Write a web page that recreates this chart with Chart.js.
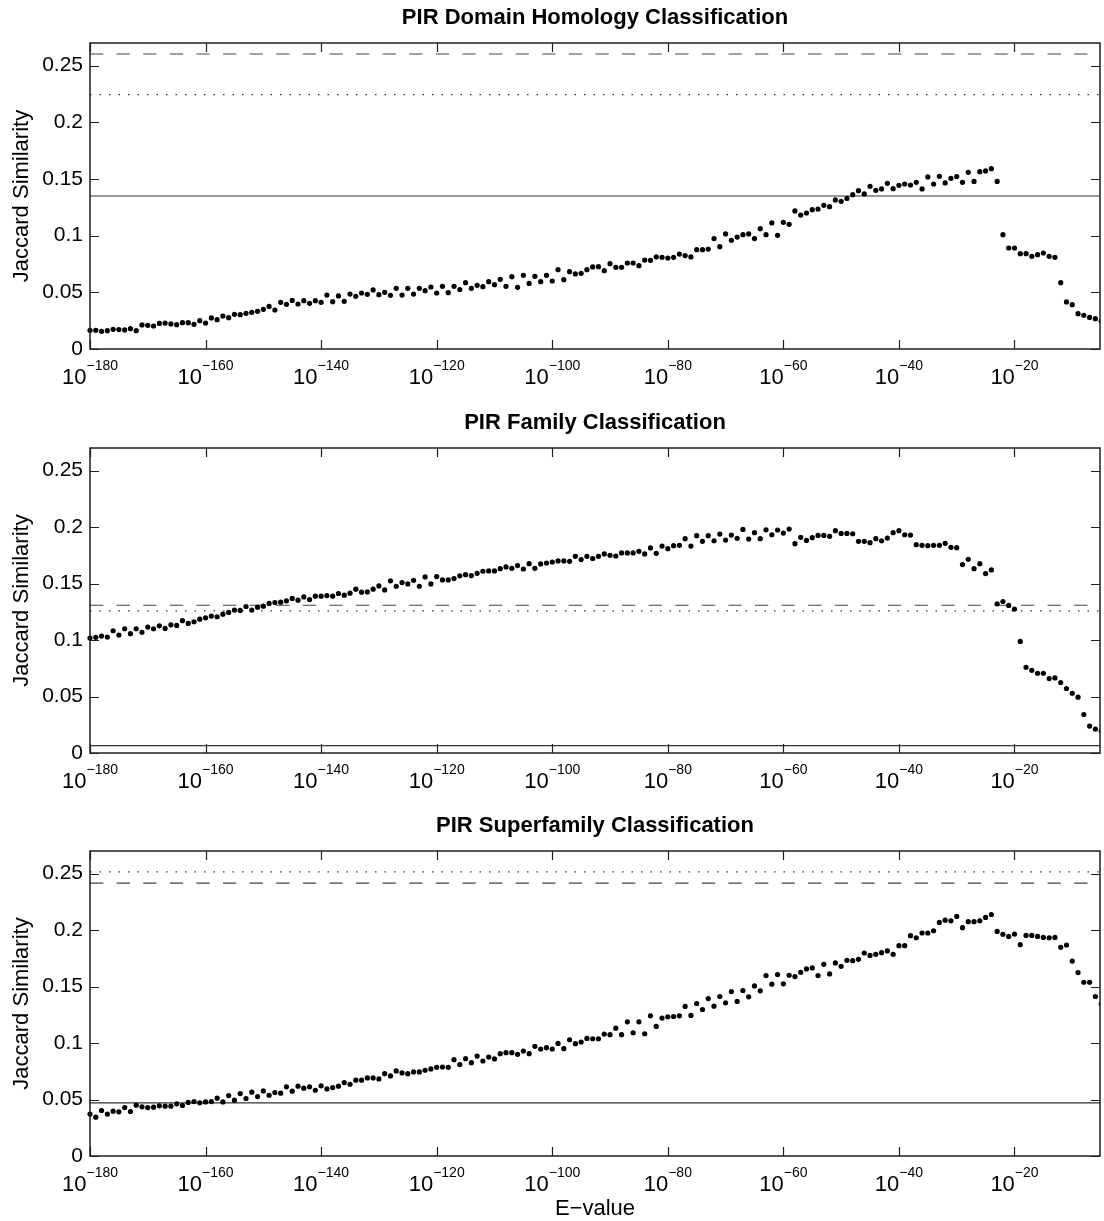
<!DOCTYPE html>
<html>
<head>
<meta charset="utf-8">
<script src="https://cdn.jsdelivr.net/npm/chart.js@4.4.1/dist/chart.umd.min.js"></script>
<style>
html,body{margin:0;padding:0;background:#fff;}
body{width:1104px;height:1221px;position:relative;overflow:hidden;}
canvas{position:absolute;left:0;}
</style>
</head>
<body>
<canvas id="c1" width="1104" height="399" style="top:0px;width:1104px;height:399px"></canvas>
<canvas id="c2" width="1104" height="398" style="top:405px;width:1104px;height:398px"></canvas>
<canvas id="c3" width="1104" height="413" style="top:808px;width:1104px;height:413px"></canvas>
<script>
// E-value exponents (x positions, log10 of E-value)
const exponents = [
-180,-179,-178,-177,-176,-175,-174,-173,-172,-171,-170,-169,-168,-167,-166,-165,-164,-163,-162,-161,
-160,-159,-158,-157,-156,-155,-154,-153,-152,-151,-150,-149,-148,-147,-146,-145,-144,-143,-142,-141,
-140,-139,-138,-137,-136,-135,-134,-133,-132,-131,-130,-129,-128,-127,-126,-125,-124,-123,-122,-121,
-120,-119,-118,-117,-116,-115,-114,-113,-112,-111,-110,-109,-108,-107,-106,-105,-104,-103,-102,-101,
-100,-99,-98,-97,-96,-95,-94,-93,-92,-91,-90,-89,-88,-87,-86,-85,-84,-83,-82,-81,
-80,-79,-78,-77,-76,-75,-74,-73,-72,-71,-70,-69,-68,-67,-66,-65,-64,-63,-62,-61,
-60,-59,-58,-57,-56,-55,-54,-53,-52,-51,-50,-49,-48,-47,-46,-45,-44,-43,-42,-41,
-40,-39,-38,-37,-36,-35,-34,-33,-32,-31,-30,-29,-28,-27,-26,-25,-24,-23,-22,-21,
-20,-19,-18,-17,-16,-15,-14,-13,-12,-11,-10,-9,-8,-7,-6,-5
];

const domainValues = [
.0165,.0165,.0156,.0162,.0174,.0171,.0168,.0179,.0162,.0212,
.0209,.0203,.0226,.0229,.0221,.0215,.0232,.0232,.0218,.025,
.0229,.0274,.0259,.0291,.0276,.0306,.0303,.0315,.0324,.0332,
.035,.0376,.0344,.0412,.0394,.0429,.0397,.0426,.0403,.0426,
.0412,.0476,.0418,.0468,.0421,.0485,.0465,.0494,.0482,.0521,
.0479,.05,.0474,.0535,.0476,.0535,.0485,.0535,.0515,.0547,
.0494,.0553,.0497,.0553,.0524,.0585,.0535,.0562,.055,.0594,
.0568,.0615,.0553,.0638,.0544,.065,.0579,.0641,.0594,.065,
.06,.07,.0612,.0682,.0662,.0668,.07,.0724,.0726,.0691,
.0753,.0721,.0721,.0759,.0759,.0735,.0785,.0782,.0812,.0809,
.0803,.0809,.0838,.0824,.0812,.0876,.0876,.0882,.0974,.0903,
.1015,.0959,.0988,.1009,.1015,.0974,.1062,.1009,.1112,.1003,
.1118,.11,.1218,.1182,.12,.1229,.1235,.1268,.1256,.1315,
.1303,.1329,.1362,.1397,.1368,.1435,.14,.1412,.1462,.1415,
.1444,.1456,.1447,.1471,.1412,.1518,.1456,.1524,.1465,.1506,
.1521,.1471,.1559,.1479,.1565,.1571,.1591,.1479,.1009,.0891,
.0891,.0841,.0841,.0818,.0832,.0847,.0818,.0809,.0585,.0415,
.0391,.0312,.0297,.0279,.0268,.0244
];

const familyValues = [
.1018,.1024,.1035,.1026,.1082,.1044,.11,.1056,.11,.1068,
.1115,.11,.1126,.1103,.1135,.1129,.1171,.1147,.1162,.1185,
.1197,.1212,.1206,.1229,.1244,.1265,.1262,.1297,.1265,.1291,
.13,.1324,.1332,.1335,.1347,.1368,.1353,.1382,.1359,.1388,
.1388,.1394,.1388,.1412,.1397,.1415,.145,.1424,.1426,.145,
.1479,.1444,.1524,.1476,.1509,.1497,.1529,.1476,.1559,.1497,
.1562,.1532,.1532,.1544,.1568,.1579,.1571,.1591,.1609,.1612,
.1612,.1632,.1647,.1635,.1659,.1629,.1676,.1635,.1674,.1682,
.1691,.17,.17,.1697,.1741,.1712,.1741,.1721,.1741,.1762,
.175,.1744,.1771,.1771,.1771,.1785,.1762,.1815,.1768,.1832,
.1809,.1835,.1838,.1897,.1832,.1924,.1874,.1924,.1879,.1938,
.1885,.1929,.19,.1979,.1894,.195,.1897,.1976,.1932,.1974,
.1947,.1982,.1853,.1909,.1882,.1906,.1926,.1926,.1918,.1968,
.1944,.1944,.1941,.1874,.1874,.1862,.1897,.1879,.1903,.195,
.1968,.1932,.1929,.1844,.1838,.1835,.1838,.1838,.1856,.1821,
.1818,.1668,.1715,.1632,.1676,.1588,.1621,.1321,.1341,.1306,
.1274,.0988,.0759,.0732,.0706,.0706,.0659,.0665,.0624,.0571,
.0529,.0494,.0341,.0238,.0212,.0194
];

const superfamilyValues = [
.0371,.0344,.0403,.0371,.0397,.0391,.0429,.0394,.045,.0435,
.0429,.0432,.0444,.0441,.0441,.0462,.0447,.0474,.0482,.0471,
.0479,.0482,.0512,.0479,.0535,.0494,.0553,.0509,.0565,.0526,
.0576,.0538,.0562,.0556,.0612,.0574,.0618,.06,.0612,.0582,
.0621,.0594,.0606,.0618,.065,.0635,.0671,.0671,.0691,.0691,
.0682,.0729,.0709,.0753,.0735,.0729,.0744,.0744,.0759,.0771,
.0785,.0788,.0785,.0853,.0809,.0862,.0826,.0885,.0841,.0876,
.0859,.0906,.0915,.0915,.09,.0929,.0906,.0971,.0947,.0959,
.0947,.0997,.095,.1029,.0994,.1009,.1041,.1038,.1038,.1079,
.1074,.1132,.1074,.1188,.1091,.1188,.1082,.1241,.1147,.1221,
.1232,.1235,.1241,.1324,.1244,.135,.1297,.1394,.1326,.1412,
.1356,.1456,.1368,.1465,.1409,.1506,.1462,.1597,.1521,.1606,
.1524,.16,.1588,.1626,.1656,.1665,.1597,.1697,.1612,.1709,
.1679,.1732,.1729,.1741,.1797,.1776,.1785,.18,.1815,.1785,
.1862,.1862,.195,.1932,.1974,.1974,.1994,.2068,.2088,.2082,
.2121,.2021,.2074,.2074,.2082,.2112,.2138,.1988,.1962,.1944,
.1965,.1871,.1953,.1953,.1944,.1935,.1932,.1935,.1847,.1868,
.1726,.1624,.1538,.1538,.1412,.1347
];

// Reference levels: [solid, dashed, dotted]
const domainRefs = [0.135, 0.2603, 0.2244];
const familyRefs = [0.0065, 0.1308, 0.1258];
const superfamilyRefs = [0.047, 0.2415, 0.2515];

const titles = ['PIR Domain Homology Classification','PIR Family Classification','PIR Superfamily Classification'];
const xTickValues = [-180,-160,-140,-120,-100,-80,-60,-40,-20];
const yTickLabels = ['0','0.05','0.1','0.15','0.2','0.25'];
const X_MIN = -180, X_MAX = -5.2, Y_MIN = 0, Y_MAX = 0.27;

const FONT = '"Liberation Sans", Arial, Helvetica, sans-serif';
const FRAME = '#1e1e1e';

const framePlugin = {
  id: 'matlabFrame',
  afterDraw(chart) {
    const ctx = chart.ctx, a = chart.chartArea;
    const xs = chart.scales.x, ys = chart.scales.y;
    ctx.save();
    ctx.strokeStyle = FRAME;
    ctx.lineWidth = 1.5;
    ctx.strokeRect(a.left, a.top, a.right - a.left, a.bottom - a.top);
    ctx.lineWidth = 1.2;
    ctx.beginPath();
    xs.ticks.forEach(t => {
      const px = Math.round(xs.getPixelForValue(t.value)) + 0.5;
      ctx.moveTo(px, a.bottom); ctx.lineTo(px, a.bottom - 9);
      ctx.moveTo(px, a.top); ctx.lineTo(px, a.top + 9);
    });
    ys.ticks.forEach(t => {
      const py = Math.round(ys.getPixelForValue(t.value)) + 0.5;
      ctx.moveTo(a.left, py); ctx.lineTo(a.left + 9, py);
      ctx.moveTo(a.right, py); ctx.lineTo(a.right - 9, py);
    });
    ctx.stroke();
    // x tick labels: 10 with superscript exponent
    ctx.fillStyle = '#000';
    ctx.textBaseline = 'alphabetic';
    ctx.textAlign = 'left';
    xs.ticks.forEach(t => {
      const px = xs.getPixelForValue(t.value);
      const exp = '\u2212' + Math.abs(t.value);
      ctx.font = '22px ' + FONT;
      const w1 = ctx.measureText('10').width;
      ctx.font = '14px ' + FONT;
      const w2 = ctx.measureText(exp).width;
      const start = px - (w1 + w2) / 2;
      ctx.font = '22px ' + FONT;
      ctx.fillText('10', start, a.bottom + 34.5);
      ctx.font = '14px ' + FONT;
      ctx.fillText(exp, start + w1, a.bottom + 21);
    });
    ctx.restore();
  }
};

function refLine(y, dash, color) {
  return {
    type: 'line',
    data: [{x: X_MIN, y: y}, {x: X_MAX, y: y}],
    borderColor: color,
    borderWidth: 1.2,
    borderDash: dash,
    pointRadius: 0,
    fill: false
  };
}

function makePanel(id, title, values, refs, showXTitle, xAxisHeight) {
  const pts = values.map((v, i) => ({x: exponents[i], y: v}));
  return new Chart(document.getElementById(id), {
    type: 'scatter',
    data: {
      datasets: [
        {
          type: 'scatter',
          data: pts,
          pointRadius: 2.6,
          pointBackgroundColor: '#000',
          pointBorderWidth: 0,
          clip: {left: 5, top: 5, right: 0, bottom: 5}
        },
        refLine(refs[0], [], '#333'),
        refLine(refs[1], [13.3, 13.3], '#444'),
        refLine(refs[2], [1.5, 8], '#333')
      ]
    },
    options: {
      responsive: false,
      animation: false,
      events: [],
      layout: {padding: {left: 0, right: 1, top: 0, bottom: 0}},
      plugins: {
        legend: {display: false},
        tooltip: {enabled: false},
        title: {
          display: true,
          text: title,
          fullSize: false,
          color: '#000',
          font: {family: FONT, size: 22, weight: 'bold', lineHeight: 1.2},
          padding: {top: 5.2, bottom: 11.4}
        }
      },
      scales: {
        x: {
          type: 'linear',
          min: X_MIN, max: X_MAX,
          afterFit(s) { s.height = xAxisHeight; },
          afterBuildTicks(s) { s.ticks = xTickValues.map(v => ({value: v})); },
          grid: {display: false, drawTicks: false},
          border: {display: false},
          ticks: {display: false},
          title: {
            display: showXTitle,
            text: 'E\u2212value',
            color: '#000',
            font: {family: FONT, size: 22, lineHeight: 1},
            padding: {top: 0, bottom: 1}
          }
        },
        y: {
          type: 'linear',
          min: Y_MIN, max: Y_MAX,
          afterFit(s) { s.width = 90; },
          afterBuildTicks(s) { s.ticks = yTickLabels.map(l => ({value: parseFloat(l)})); },
          grid: {display: false, drawTicks: false},
          border: {display: false},
          ticks: {
            padding: 7,
            color: '#000',
            font: {family: FONT, size: 21},
            callback: (v) => yTickLabels.find(l => Math.abs(parseFloat(l) - v) < 1e-9) || ''
          },
          title: {
            display: true,
            text: 'Jaccard Similarity',
            color: '#000',
            font: {family: FONT, size: 22, lineHeight: 1.2},
            padding: {top: 8.5, bottom: 0}
          }
        }
      }
    },
    plugins: [framePlugin]
  });
}

makePanel('c1', titles[0], domainValues, domainRefs, false, 50);
makePanel('c2', titles[1], familyValues, familyRefs, false, 50);
makePanel('c3', titles[2], superfamilyValues, superfamilyRefs, true, 65);
</script>
</body>
</html>
